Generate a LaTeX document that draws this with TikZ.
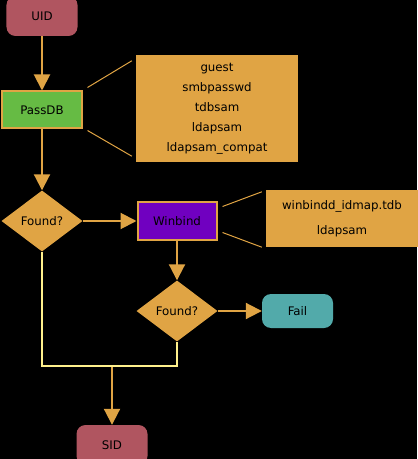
\documentclass[tikz,border=0pt]{standalone}
\usepackage{fontspec}
\setmainfont{DejaVu Sans}
\usetikzlibrary{shapes.geometric,arrows.meta}
\definecolor{ochre}{RGB}{224,164,68}
\definecolor{rose}{RGB}{176,85,96}
\definecolor{leaf}{RGB}{102,187,68}
\definecolor{grape}{RGB}{112,0,192}
\definecolor{lagoon}{RGB}{82,170,170}
\definecolor{pale}{RGB}{255,240,140}
\tikzstyle{terminal}=[rectangle, rounded corners=9bp, inner sep=0pt, minimum width=71bp, minimum height=40bp]
\tikzstyle{process}=[rectangle, draw=ochre, line width=2bp, inner sep=0pt, minimum width=79bp, minimum height=37bp]
\tikzstyle{decision}=[diamond, fill=ochre, inner sep=0pt, minimum width=81bp, minimum height=61bp]
\tikzstyle{backend}=[rectangle, fill=ochre, inner sep=0pt, align=center]
\tikzstyle{callout}=[draw=ochre, line width=1bp]
\newcommand{\decision}{\node[decision]}

\begin{document}
\begin{tikzpicture}[x=1bp, y=-1bp
    ,every node/.style={font=\fontsize{11.8bp}{20bp}\selectfont}
    ,every edge/.style={draw=ochre, line width=2bp,
        -{Triangle[length=16bp,width=16bp]}}
]
\fill[black] (0,0) rectangle (417,459);
\useasboundingbox (0,0) rectangle (417,459);
\node[terminal, fill=rose] (uid) at (42,16) {UID};
\node[process, fill=leaf] (passdb) at (42,110) {PassDB};
\node[backend, minimum width=162bp, minimum height=107bp] (backends) at (217,108.5)
    {guest\\smbpasswd\\tdbsam\\ldapsam\\ldapsam\_compat};
\decision (found1) at (42,221) {Found?};
\node[process, fill=grape] (winbind) at (177,221) {Winbind};
\node[backend, minimum width=152bp, minimum height=57bp,
    font=\fontsize{11.8bp}{25bp}\selectfont] (idmap) at (342,218.5)
    {winbindd\_idmap.tdb\\ldapsam};
\decision (found2) at (177,311) {Found?};
\node[terminal, fill=lagoon, minimum height=34bp] (fail) at (297.5,311) {Fail};
\coordinate (merge) at (112,366);
\node[terminal, fill=rose] (sid) at (112,445) {SID};
\path
(uid) edge (passdb)
(passdb) edge (found1)
(found1) edge (winbind)
(winbind) edge (found2)
(found2) edge (fail)
(merge) edge (sid)
;
\draw[pale, line width=2bp] (found1.south) |- (merge) -| (found2.south);
\draw[callout] ([shift={(5,-3)}]passdb.north east) -- ([shift={(-4,6)}]backends.north west);
\draw[callout] ([shift={(5,1)}]passdb.south east) -- ([shift={(-4,-6)}]backends.south west);
\draw[callout] ([shift={(5,5)}]winbind.north east) -- ([shift={(-4,2)}]idmap.north west);
\draw[callout] ([shift={(5,-8)}]winbind.south east) -- ([shift={(-4,0)}]idmap.south west);
\end{tikzpicture}
\end{document}
